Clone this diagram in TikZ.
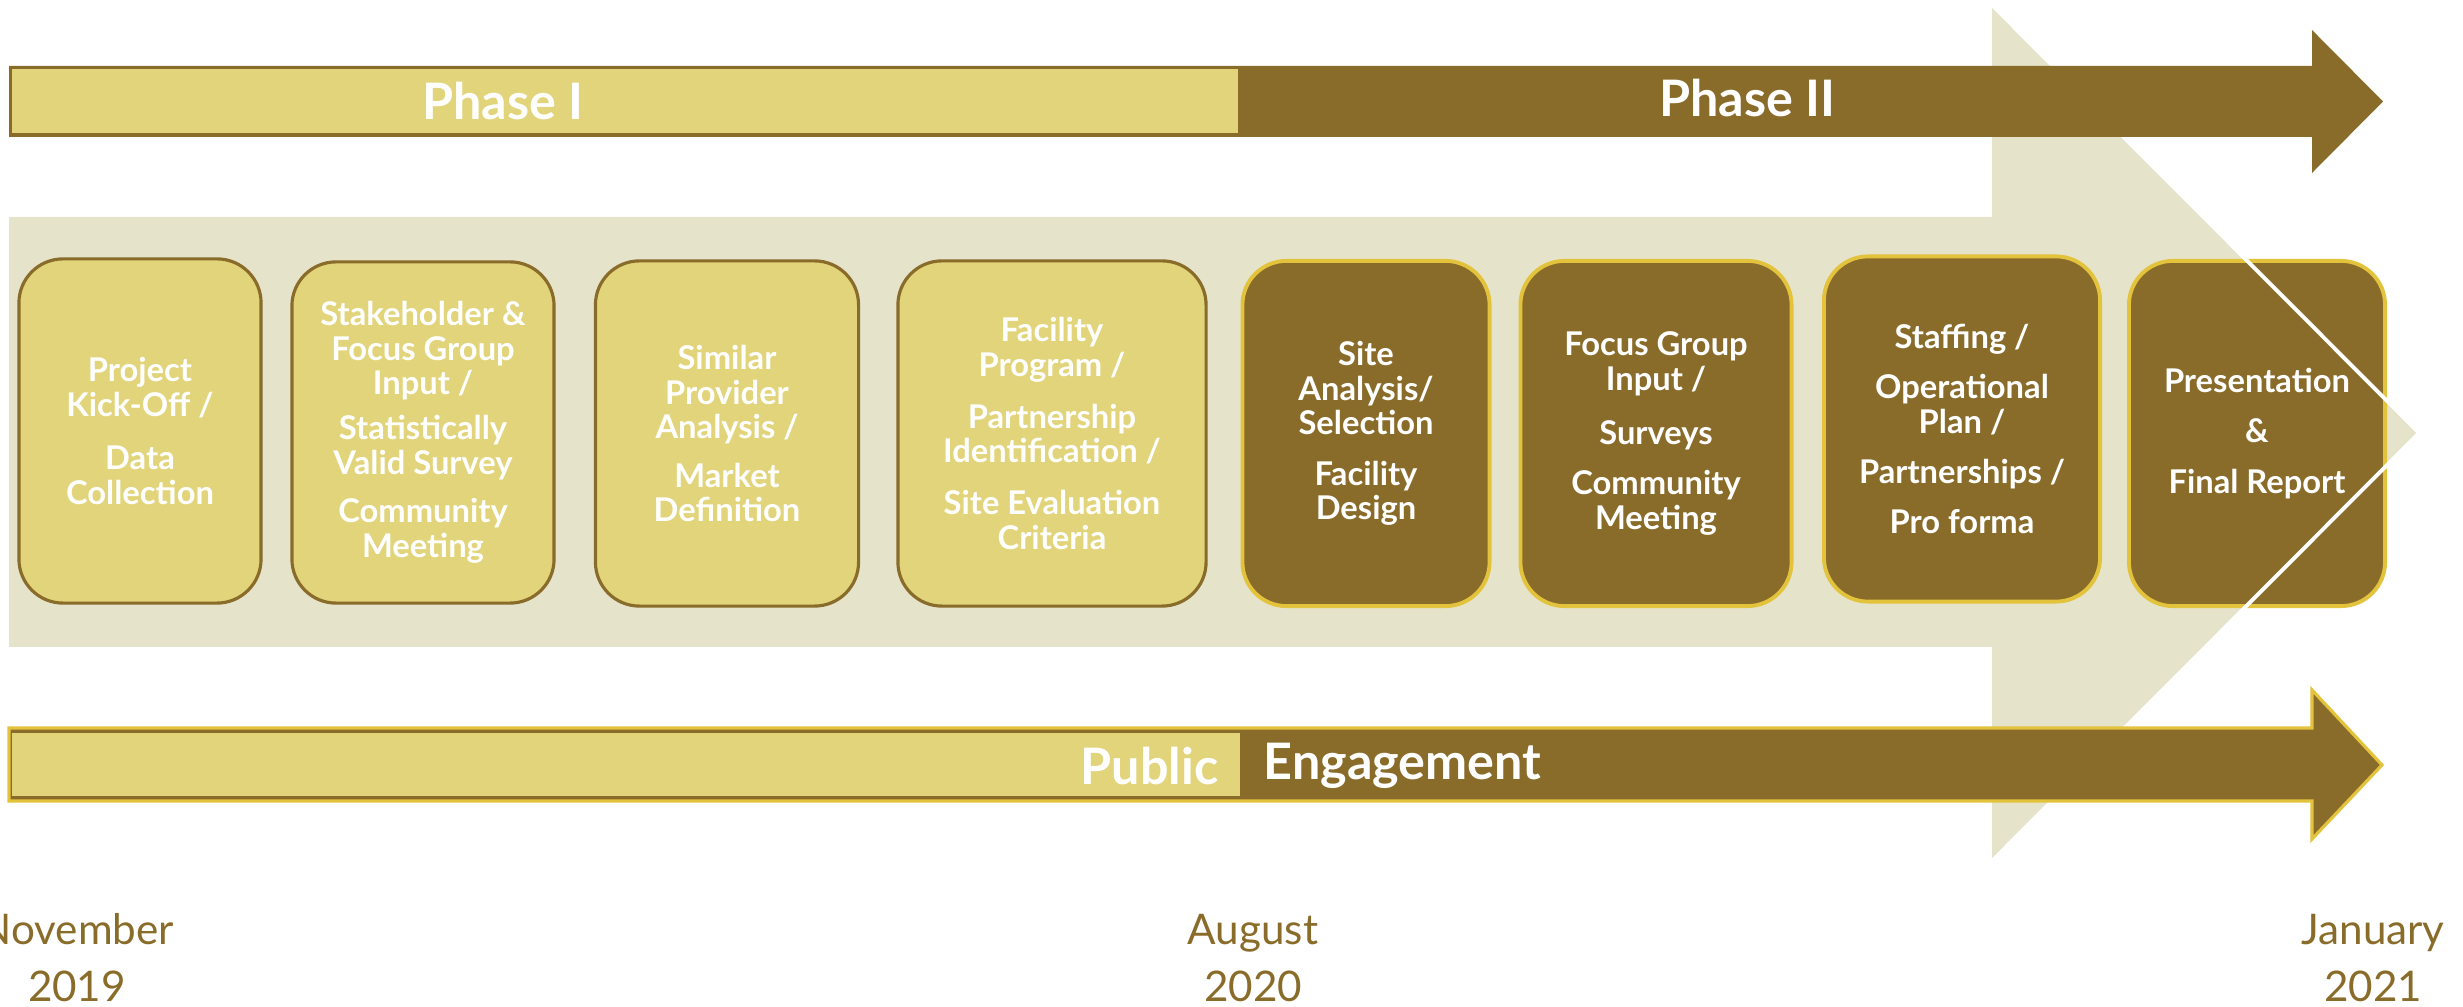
\documentclass[tikz,border=0pt]{standalone}
\usepackage{fontspec}
\setmainfont{Lato}
\usepackage{tikz}
\usetikzlibrary{positioning}

\definecolor{darkbrown}{HTML}{8A6C2A}
\definecolor{palegold}{HTML}{E2D47A}
\definecolor{bgbeige}{HTML}{E5E4CB}
\definecolor{rimgold}{HTML}{E3C23C}

\newcommand{\boxfont}{\bfseries\fontsize{9.3}{9.8}\selectfont}
\newcommand{\barfont}{\bfseries\fontsize{14.3}{16}\selectfont}

\tikzset{
    lightbox/.style={draw=darkbrown, fill=palegold, line width=0.9pt, rounded corners=0.44cm,
        minimum height=3.44cm, text=white, align=center, font=\boxfont, inner sep=0pt},
    darkbox/.style={lightbox, draw=rimgold, fill=darkbrown, line width=1.1pt},
    barlabel/.style={text=white, font=\barfont, inner sep=0pt},
    datelabel/.style={text=darkbrown, align=center, font=\fontsize{12}{16.2}\selectfont, inner sep=0pt}
}

\begin{document}
\begin{tikzpicture}[x=0.01cm, y=-0.01cm]
        \useasboundingbox (0,0) rectangle (2463,1007);

        % big background arrow
        \fill[bgbeige] (9,217) -- (1992,217) -- (1992,5) -- (2419,433) -- (1992,861) -- (1992,647) -- (9,647) -- cycle;

        % task boxes
        \node[lightbox, minimum width=2.42cm] (kickoff) at (140,431) {Project\\Kick-Off /\\[5.5pt]Data\\Collection};
        \node[lightbox, minimum width=2.62cm, minimum height=3.41cm] (stake) at (423,432.5) {Stakeholder \&\\Focus Group\\Input /\\[3pt]Statistically\\Valid Survey\\[4pt]Community\\Meeting};
        \node[lightbox, minimum width=2.63cm, minimum height=3.45cm] (similar) at (727,433.5) {Similar\\Provider\\Analysis /\\[4pt]Market\\Definition};
        \node[lightbox, minimum width=3.08cm, minimum height=3.45cm] (program) at (1052,433.5) {Facility\\Program /\\[5pt]Partnership\\Identification /\\[5pt]Site Evaluation\\Criteria};
        \node[darkbox, minimum width=2.47cm, minimum height=3.45cm] (site) at (1366,433.5) {Site\\Analysis/\\Selection\\[4.5pt]Facility\\Design};
        \node[darkbox, minimum width=2.71cm, minimum height=3.45cm] (survey) at (1656,433.5) {Focus Group\\Input /\\[5.5pt]Surveys\\[4.5pt]Community\\Meeting};
        \node[darkbox, minimum width=2.76cm, minimum height=3.45cm] (staffing) at (1962,429) {Staffing /\\[4.5pt]Operational\\Plan /\\[4.5pt]Partnerships /\\[4.5pt]Pro forma};
        \node[darkbox, minimum width=2.56cm, minimum height=3.45cm] (report) at (2257,433.5) {Presentation\\[4.5pt]\&\\[4.5pt]Final Report};

        % white rim of the arrow head
        \draw[white, line width=1.1pt] (1992,5) -- (2419,433) -- (1992,861);

        % phase arrow
        \fill[darkbrown] (9,66) -- (2312,66) -- (2312,30) -- (2383,101.5) -- (2312,173) -- (2312,137) -- (9,137) -- cycle;
        \fill[palegold] (12,69) rectangle (1238,133);
        \node[barlabel] (phase1) at (503,101) {Phase I};
        \node[barlabel] (phase2) at (1747,98) {Phase II};

        % engagement arrow
        \draw[rimgold, fill=darkbrown, line width=0.9pt] (9,728) -- (2312,728) -- (2312,690) -- (2382,765) -- (2312,839) -- (2312,801) -- (9,801) -- cycle;
        \fill[palegold] (12,733) rectangle (1240,796);
        \node[barlabel, anchor=east] (public) at (1219,766) {Public};
        \node[barlabel, anchor=west] (engage) at (1263,766) {Engagement};

        % dates
        \foreach \x/\mon/\yr/\nm in {77/November/2019/nov, 1253/August/2020/aug, 2373/January/2021/jan}
            \node[datelabel] (\nm) at (\x,958) {\mon\\\yr};
\end{tikzpicture}
\end{document}
